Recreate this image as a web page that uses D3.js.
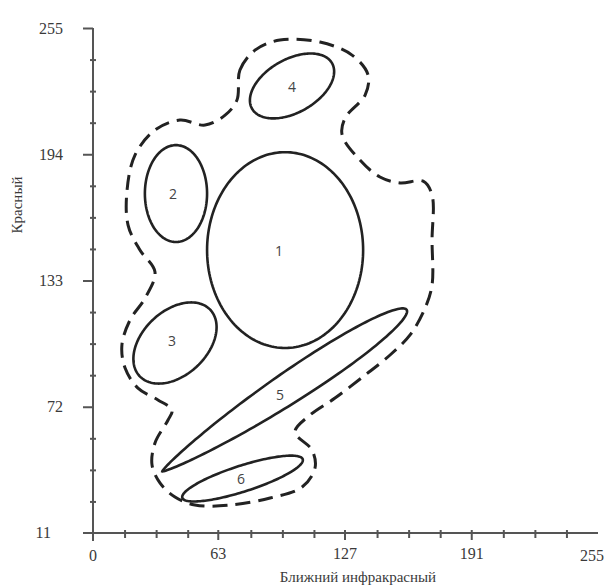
<!DOCTYPE html>
<html>
<head>
<meta charset="utf-8">
<script src="https://cdn.jsdelivr.net/npm/d3@7"></script>
<style>
  body { margin: 0; background: #fff; }
  svg { display: block; }
  .tick text { font-family: "Liberation Serif", "DejaVu Serif", serif; font-size: 16px; fill: #3a3a3a; }
  .ax line, .ax path { stroke: #555; stroke-width: 2; }
</style>
</head>
<body>
<svg id="chart" width="611" height="587"></svg>
<script>
// axis ticks
const xTicks = [0, 63, 127, 191, 255];
const yTicks = [11, 72, 133, 194, 255];

// clusters: centre, half-axes (data units), tilt in degrees, taper (1 = leaf shape)
const clusterIds = ["1", "2", "3", "4", "5", "6"];
const clusterCx = [97, 41.9, 41.4, 100.5, 96.7, 75.5];
const clusterCy = [147.7, 175, 102.8, 227, 79.8, 37.3];
const clusterA = [39.4, 15.7, 24, 23, 73, 31.8];
const clusterB = [47.3, 23.4, 15.8, 13, 9, 6.3];
const clusterTilt = [0, 0, 40, 27.5, 32.3, 17];
const clusterTaper = [0, 0, 0, 0, 1, 0];
const labelX = [93.9, 40.4, 39.9, 100.5, 94.4, 74.7];
const labelY = [147.2, 174.9, 103.7, 226.6, 77.8, 37];

// dashed envelope around all clusters
const hullX = [72.7, 74.2, 81.8, 94.4, 114.6, 130.8, 138.9, 137.4, 127.3, 125.8, 134.8, 144.9, 155.1, 166.7,
  171.2, 171.2, 171.2, 167.7, 160.1, 150, 137.4, 122.2, 109.6, 102, 110.6, 112.1, 105.6, 89.4, 69.2, 51.5,
  41.4, 33.8, 29.8, 31.3, 37.9, 39.9, 32.8, 22.7, 16.2, 14.6, 18.7, 26.3, 31.3, 23.7, 17.7, 17.2, 21.2,
  31.3, 43.9, 56.6, 66.7];
const hullY = [220.2, 234.7, 244.3, 249.2, 248.2, 241.9, 232.3, 222.6, 211.5, 203.3, 191.2, 183, 180.1, 181,
  174.3, 152.5, 130.8, 119.7, 106.7, 97, 87.3, 76.2, 68, 59.8, 51.1, 42.4, 33.2, 27.9, 24.5, 24.5,
  28.4, 35.2, 43.9, 54.5, 65.6, 70.4, 75.3, 81, 90.7, 101.8, 113.9, 124.5, 137.1, 147.7, 159.8, 176.7, 193.6,
  205.7, 210.5, 208.1, 212.9];

const svg = d3.select("#chart");

const x = d3.scaleLinear().domain([0, 255]).range([93, 598]);
const y = d3.scaleLinear().domain([11, 255]).range([533, 28]);

// axis lines (cross slightly past the origin)
svg.append("line")
  .attr("x1", x(0) - 10).attr("x2", x(255)).attr("y1", y(11)).attr("y2", y(11))
  .attr("stroke", "#555").attr("stroke-width", 2);
svg.append("line")
  .attr("x1", x(0)).attr("x2", x(0)).attr("y1", y(255)).attr("y2", y(11) + 8)
  .attr("stroke", "#555").attr("stroke-width", 2);

// minor ticks
const xMinor = d3.range(1, 16).map(i => i * 255 / 16).filter(v => !xTicks.some(t => Math.abs(t - v) < 2));
const yMinor = d3.range(1, 16).map(i => 11 + i * 244 / 16).filter(v => !yTicks.some(t => Math.abs(t - v) < 2));

svg.append("g").attr("class", "ax")
  .attr("transform", "translate(0," + (y(11) - 3) + ")")
  .call(d3.axisBottom(x).tickValues(xMinor).tickSize(8).tickFormat(""))
  .call(g => g.select(".domain").remove());

svg.append("g").attr("class", "ax")
  .attr("transform", "translate(" + (x(0) + 3) + ",0)")
  .call(d3.axisLeft(y).tickValues(yMinor).tickSize(6).tickFormat(""))
  .call(g => g.select(".domain").remove());

// major ticks + labels
svg.append("g").attr("class", "ax")
  .attr("transform", "translate(0," + (y(11) - 3) + ")")
  .call(d3.axisBottom(x).tickValues(xTicks.slice(1, 4)).tickSize(10).tickPadding(8))
  .call(g => g.select(".domain").remove());

svg.append("g").attr("class", "ax")
  .attr("transform", "translate(" + x(0) + ",0)")
  .call(d3.axisLeft(y).tickValues(yTicks.slice(1)).tickSize(10).tickPadding(20))
  .call(g => g.select(".domain").remove());

// corner labels drawn separately as in the original
function cornerLabel(px, py, anchor, txt) {
  svg.append("text").attr("x", px).attr("y", py)
    .attr("text-anchor", anchor).attr("font-family", "Liberation Serif, serif")
    .attr("font-size", 16).attr("fill", "#3a3a3a").text(txt);
}
cornerLabel(x(0), y(11) + 28, "middle", xTicks[0]);
cornerLabel(x(255) - 6, y(11) + 28, "middle", xTicks[4]);
cornerLabel(x(0) - 42, y(11) + 5, "end", yTicks[0]);

// axis titles
svg.append("text")
  .attr("x", 358).attr("y", 582)
  .attr("text-anchor", "middle")
  .attr("font-family", "Liberation Serif, serif").attr("font-size", 15).attr("fill", "#3a3a3a")
  .text("Ближний инфракрасный");

svg.append("text")
  .attr("transform", "translate(22," + 205 + ") rotate(-90)")
  .attr("text-anchor", "middle")
  .attr("font-family", "Liberation Serif, serif").attr("font-size", 15).attr("fill", "#3a3a3a")
  .text("Красный");

// dashed envelope
const hull = hullX.map((v, i) => [v, hullY[i]]);
svg.append("path")
  .datum(hull)
  .attr("d", d3.line().x(d => x(d[0])).y(d => y(d[1])).curve(d3.curveCatmullRomClosed.alpha(0.5)))
  .attr("fill", "none")
  .attr("stroke", "#222")
  .attr("stroke-width", 3)
  .attr("stroke-dasharray", "15 8");

// cluster outlines
function clusterPoints(i) {
  const a = clusterA[i], b = clusterB[i], th = clusterTilt[i] * Math.PI / 180;
  return d3.range(0, 361, 2).map(deg => {
    const t = deg * Math.PI / 180;
    let u = a * Math.cos(t);
    let v = b * Math.sin(t);
    if (clusterTaper[i]) v *= Math.sqrt(Math.abs(Math.cos(t / 2)));
    return [clusterCx[i] + u * Math.cos(th) - v * Math.sin(th),
            clusterCy[i] + u * Math.sin(th) + v * Math.cos(th)];
  });
}

svg.append("g").selectAll("path")
  .data(clusterIds)
  .enter()
  .append("path")
  .attr("d", (d, i) => d3.line().x(p => x(p[0])).y(p => y(p[1]))(clusterPoints(i)) + "Z")
  .attr("fill", "none")
  .attr("stroke", "#222")
  .attr("stroke-width", 2.6);

svg.append("g").selectAll("text")
  .data(clusterIds)
  .enter()
  .append("text")
  .attr("x", (d, i) => x(labelX[i]))
  .attr("y", (d, i) => y(labelY[i]))
  .attr("dy", "0.35em")
  .attr("text-anchor", "middle")
  .attr("font-family", "Open Sans, sans-serif")
  .attr("font-size", 14)
  .attr("fill", "#444")
  .text(d => d);
</script>
</body>
</html>
